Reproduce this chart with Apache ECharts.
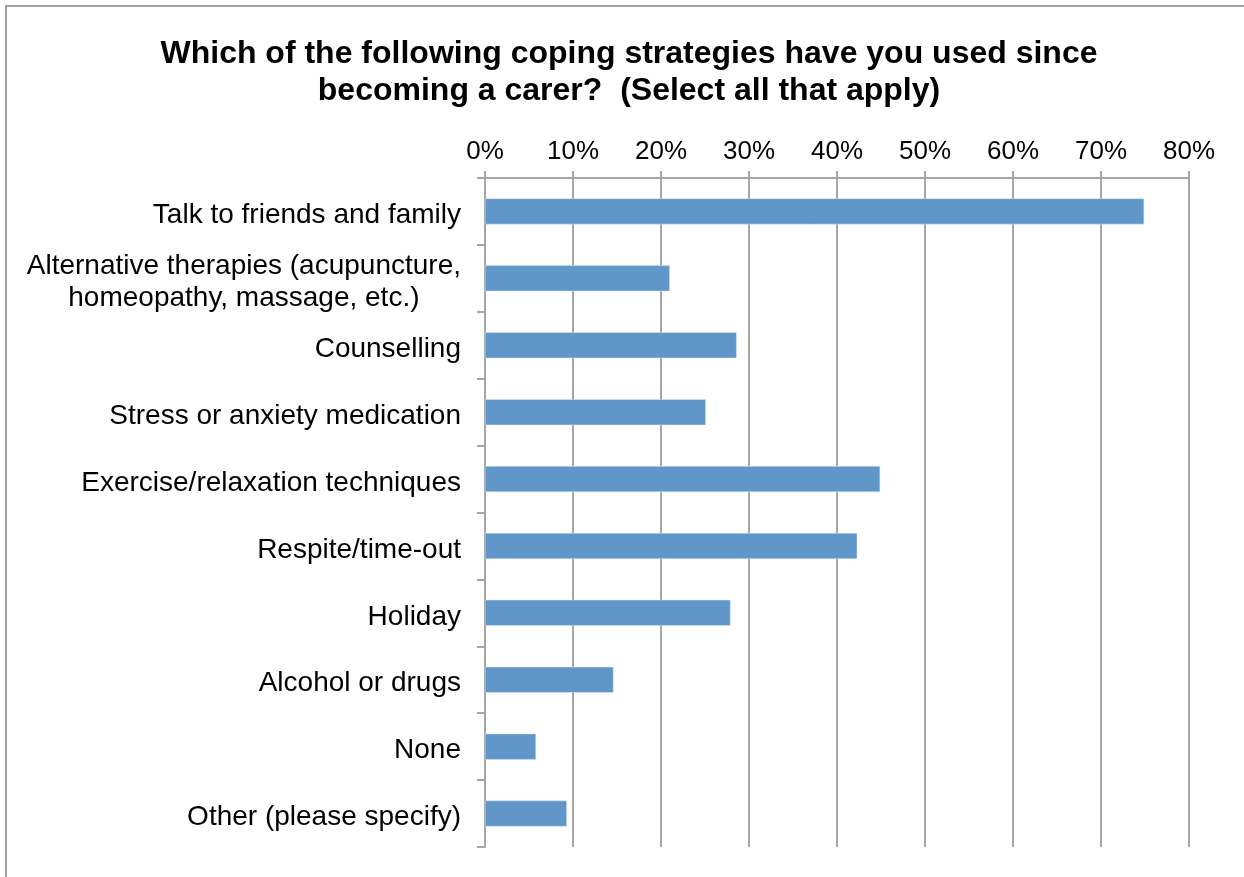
<!DOCTYPE html>
<html>
<head>
<meta charset="utf-8">
<script src="https://cdn.jsdelivr.net/npm/echarts@6/dist/echarts.min.js"></script>
<style>
  html, body { margin: 0; padding: 0; background: #fff; }
  #chart { width: 1244px; height: 877px; }
</style>
</head>
<body>
<div id="chart"></div>
<script>
// 类别（从上到下）
const categories = [
  'Talk to friends and family',
  'Alternative therapies (acupuncture,\nhomeopathy, massage, etc.)',
  'Counselling',
  'Stress or anxiety medication',
  'Exercise/relaxation techniques',
  'Respite/time-out',
  'Holiday',
  'Alcohol or drugs',
  'None',
  'Other (please specify)'
];
// 百分比
const values = [74.9, 21.0, 28.6, 25.1, 44.9, 42.3, 27.9, 14.6, 5.8, 9.3];
const tickLabels = ['0%', '10%', '20%', '30%', '40%', '50%', '60%', '70%', '80%'];

const gridColor = '#A6A6A6';
const barColor = '#6096C8';
const fontFamily = 'Liberation Sans, Arial, sans-serif';
const catFontSize = 28;

// 多行标签：每行居中，整体右对齐
const ctx = document.createElement('canvas').getContext('2d');
ctx.font = catFontSize + 'px ' + fontFamily;
function labelFormatter(v) {
  if (v.indexOf('\n') < 0) return v;
  const lines = v.split('\n');
  return lines.map(l => '{c|' + l + '}').join('\n');
}
const longest = Math.max.apply(null, categories.filter(c => c.indexOf('\n') >= 0)
  .map(c => Math.max.apply(null, c.split('\n').map(l => ctx.measureText(l).width))));

const chart = echarts.init(document.getElementById('chart'));
const option = {
  animation: false,
  textStyle: { fontFamily: fontFamily },
  title: {
    text: 'Which of the following coping strategies have you used since\nbecoming a carer?  (Select all that apply)',
    left: 624,
    textAlign: 'center',
    top: 31,
    textStyle: {
      fontFamily: fontFamily,
      fontSize: 32,
      fontWeight: 'bold',
      color: '#000',
      lineHeight: 37
    }
  },
  graphic: [
    {
      type: 'rect',
      shape: { x: 6, y: 6, width: 1400, height: 1000 },
      style: { fill: 'none', stroke: '#A0A0A0', lineWidth: 2 },
      silent: true
    }
  ],
  grid: { left: 485, right: 55, top: 178, bottom: 30, containLabel: false },
  xAxis: {
    type: 'value',
    position: 'top',
    min: 0,
    max: 80,
    interval: 10,
    axisLine: { show: true, lineStyle: { color: gridColor, width: 2 } },
    axisTick: { show: true, length: 7, lineStyle: { color: gridColor, width: 2 } },
    splitLine: { show: true, lineStyle: { color: gridColor, width: 2 } },
    axisLabel: {
      color: '#000',
      fontSize: 26,
      margin: 13,
      formatter: function (v) { return tickLabels[Math.round(v / 10)]; }
    }
  },
  yAxis: {
    type: 'category',
    inverse: true,
    data: categories,
    axisLine: { show: true, lineStyle: { color: gridColor, width: 2 } },
    axisTick: { show: true, length: 8, lineStyle: { color: gridColor, width: 2 } },
    axisLabel: {
      color: '#000',
      fontSize: catFontSize,
      margin: 24,
      lineHeight: 32,
      align: 'right',
      padding: [8, 0, 0, 0],
      formatter: labelFormatter,
      rich: {
        c: { fontSize: catFontSize, lineHeight: 32, width: longest, align: 'center', color: '#000' }
      }
    }
  },
  series: [
    {
      type: 'bar',
      data: values,
      barWidth: 26,
      itemStyle: { color: barColor, borderColor: '#DCE8F4', borderWidth: 0.5 }
    }
  ]
};
chart.setOption(option);
</script>
</body>
</html>
